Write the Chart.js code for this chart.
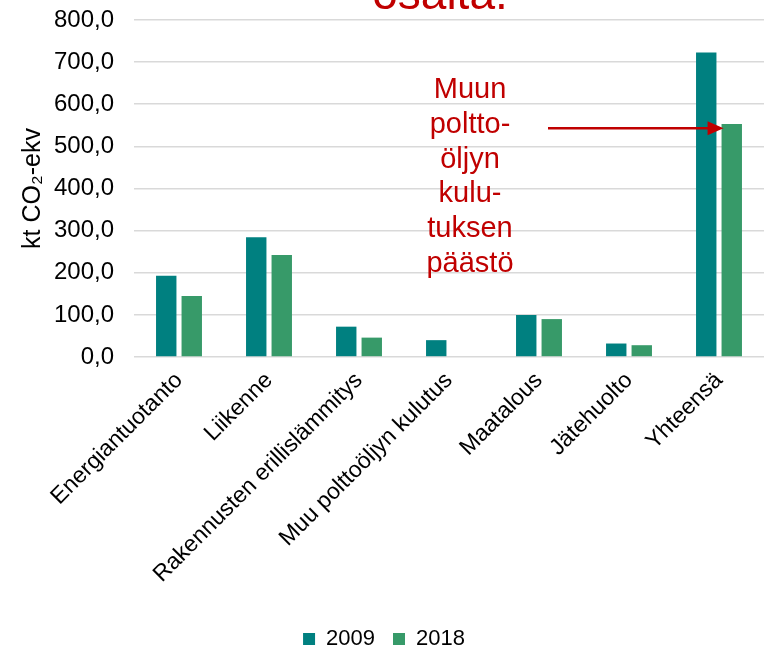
<!DOCTYPE html>
<html>
<head>
<meta charset="utf-8">
<script src="https://cdn.jsdelivr.net/npm/chart.js@4"></script>
<style>
  html, body { margin: 0; padding: 0; background: #fff; }
  #wrap { width: 764px; height: 648px; }
</style>
</head>
<body>
<div id="wrap"><canvas id="chart" width="764" height="648"></canvas></div>
<script>
const categories = ["Energiantuotanto", "Liikenne", "Rakennusten erillislämmitys", "Muu polttoöljyn kulutus", "Maatalous", "Jätehuolto", "Yhteensä"];
const values2009 = [193, 284, 72, 40, 100, 32, 723];
const values2018 = [145, 242, 46, null, 90, 28, 553];
const yTicks = [0, 100, 200, 300, 400, 500, 600, 700, 800];
const noteLines = ["Muun", "poltto-", "öljyn", "kulu-", "tuksen", "päästö"];

const FONT = "'Liberation Sans', Arial, sans-serif";
const RED = "#C00000";

// huomautusteksti, nuoli ja otsikon alaosa
const notePlugin = {
  id: "note",
  afterDraw(chart) {
    const ctx = chart.ctx;
    const y = chart.scales.y;
    ctx.save();
    ctx.fillStyle = RED;
    ctx.textAlign = "center";
    ctx.textBaseline = "alphabetic";
    ctx.font = "46px " + FONT;
    ctx.fillText("osalta.", 440, 9);

    ctx.font = "29px " + FONT;
    noteLines.forEach((t, i) => ctx.fillText(t, 470, 98 + i * 34.8));

    // nuoli kohti vuoden 2018 yhteensä-pylvästä
    const bar = chart.getDatasetMeta(1).data[6];
    const tipX = bar.x - bar.width / 2 + 2;
    const ay = y.getPixelForValue(543);
    ctx.strokeStyle = RED;
    ctx.lineWidth = 2.5;
    ctx.beginPath();
    ctx.moveTo(548, ay);
    ctx.lineTo(tipX - 14, ay);
    ctx.stroke();
    ctx.beginPath();
    ctx.moveTo(tipX, ay);
    ctx.lineTo(tipX - 16, ay - 7);
    ctx.lineTo(tipX - 16, ay + 7);
    ctx.closePath();
    ctx.fill();
    ctx.restore();
  }
};

new Chart(document.getElementById("chart"), {
  type: "bar",
  data: {
    labels: categories,
    datasets: [
      { label: "2009", data: values2009, backgroundColor: "#008080" },
      { label: "2018", data: values2018, backgroundColor: "#379A69" }
    ]
  },
  options: {
    responsive: false,
    animation: false,
    layout: { padding: { top: 20, right: -4, left: 0, bottom: -12 } },
    datasets: { bar: { categoryPercentage: 0.567, barPercentage: 0.8 } },
    plugins: {
      tooltip: { enabled: false },
      legend: {
        position: "bottom",
        labels: {
          boxWidth: 12, boxHeight: 12, padding: 18,
          color: "#000",
          font: { family: FONT, size: 22 }
        }
      }
    },
    scales: {
      x: {
        grid: { display: false },
        border: { display: false },
        ticks: {
          color: "#000",
          font: { family: FONT, size: 23 },
          minRotation: 45, maxRotation: 45,
          padding: 2,
          autoSkip: false
        },
        afterFit(scale) { scale.height = 253; }
      },
      y: {
        min: 0, max: 800,
        afterBuildTicks(scale) { scale.ticks = yTicks.map(v => ({ value: v })); },
        grid: { color: "#D9D9D9", lineWidth: 1.6, drawTicks: false },
        border: { display: false },
        ticks: {
          color: "#000",
          font: { family: FONT, size: 24 },
          padding: 20,
          callback: v => v.toFixed(1).replace(".", ",")
        },
        title: {
          display: true,
          text: "kt CO₂-ekv",
          color: "#000",
          font: { family: FONT, size: 25 },
          padding: { top: 18, bottom: 4 }
        },
        afterFit(scale) {
          scale.width = 134;
          scale.paddingTop = 0;
          scale.paddingBottom = 0;
        }
      }
    }
  },
  plugins: [notePlugin]
});
</script>
</body>
</html>
